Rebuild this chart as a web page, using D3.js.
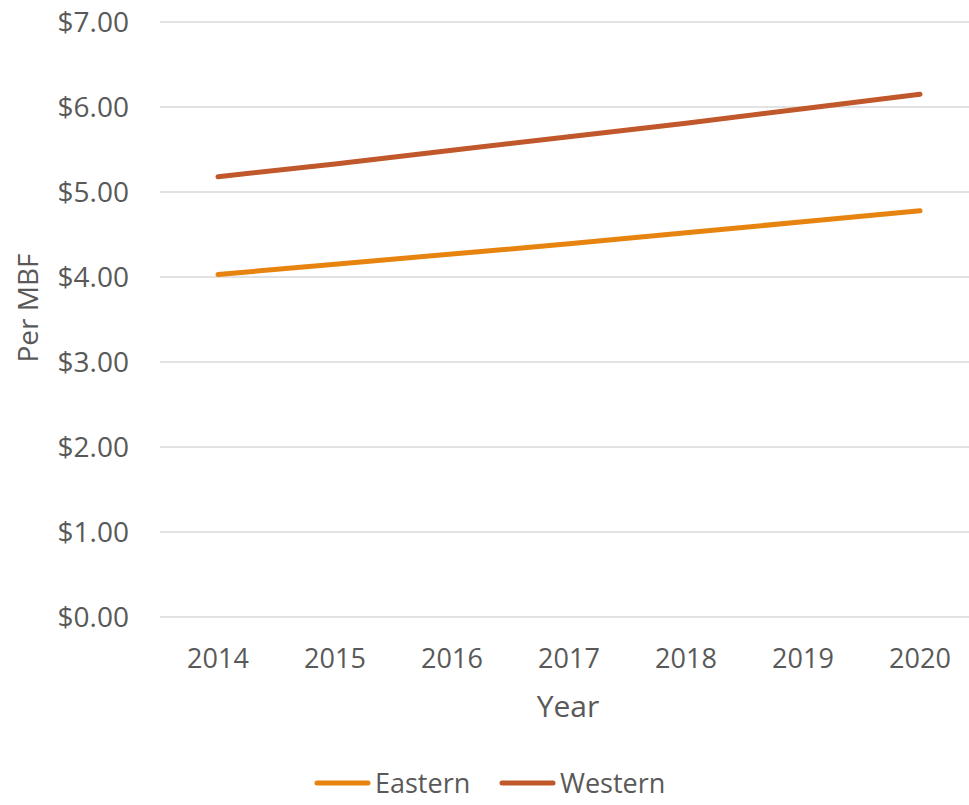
<!DOCTYPE html>
<html>
<head>
<meta charset="utf-8">
<script src="https://cdn.jsdelivr.net/npm/d3@7"></script>
<style>
  body { margin: 0; background: #fff; }
  text { font-family: "Open Sans", sans-serif; fill: #595959; }
</style>
</head>
<body>
<div id="chart"></div>
<script>
// data
const years = ["2014", "2015", "2016", "2017", "2018", "2019", "2020"];
const eastern = [4.03, 4.15, 4.27, 4.39, 4.52, 4.65, 4.78];
const western = [5.18, 5.33, 5.49, 5.65, 5.81, 5.98, 6.15];
const yTicks = [0, 1, 2, 3, 4, 5, 6, 7];
const seriesNames = ["Eastern", "Western"];
const seriesColors = ["#E6840F", "#C0582C"];

const width = 969, height = 805;

const svg = d3.select("#chart")
  .append("svg")
  .attr("width", width)
  .attr("height", height);

const x = d3.scalePoint()
  .domain(years)
  .range([218, 920]);

const y = d3.scaleLinear()
  .domain([0, 7])
  .range([617, 22]);

// gridlines
svg.selectAll("line.grid")
  .data(yTicks)
  .enter()
  .append("line")
  .attr("x1", 160)
  .attr("x2", width)
  .attr("y1", d => y(d))
  .attr("y2", d => y(d))
  .attr("stroke", "#d9d9d9")
  .attr("stroke-width", 1.5);

// y tick labels
const fmt = d3.format("$.2f");
svg.selectAll("text.ytick")
  .data(yTicks)
  .enter()
  .append("text")
  .attr("x", 129)
  .attr("y", d => y(d) + 10)
  .attr("text-anchor", "end")
  .style("font-size", "28px")
  .text(d => fmt(d));

// x tick labels
svg.selectAll("text.xtick")
  .data(years)
  .enter()
  .append("text")
  .attr("x", d => x(d))
  .attr("y", 668)
  .attr("text-anchor", "middle")
  .style("font-size", "27px")
  .text(d => d);

// axis titles
svg.append("text")
  .attr("x", 568)
  .attr("y", 717)
  .attr("text-anchor", "middle")
  .style("font-size", "30px")
  .text("Year");

svg.append("text")
  .attr("transform", "translate(38,308) rotate(-90)")
  .attr("text-anchor", "middle")
  .style("font-size", "28px")
  .text("Per MBF");

// lines
const line = d3.line()
  .x((d, i) => x(years[i]))
  .y(d => y(d));

[eastern, western].forEach((vals, i) => {
  svg.append("path")
    .datum(vals)
    .attr("d", line)
    .attr("fill", "none")
    .attr("stroke", seriesColors[i])
    .attr("stroke-width", 5)
    .attr("stroke-linecap", "round")
    .attr("stroke-linejoin", "round");
});

// legend
const legendX = [315, 500];
seriesNames.forEach((name, i) => {
  svg.append("line")
    .attr("x1", legendX[i] + 2)
    .attr("x2", legendX[i] + 53)
    .attr("y1", 783)
    .attr("y2", 783)
    .attr("stroke", seriesColors[i])
    .attr("stroke-width", 5)
    .attr("stroke-linecap", "round");
  svg.append("text")
    .attr("x", legendX[i] + 60)
    .attr("y", 793)
    .style("font-size", "27px")
    .text(name);
});
</script>
</body>
</html>
